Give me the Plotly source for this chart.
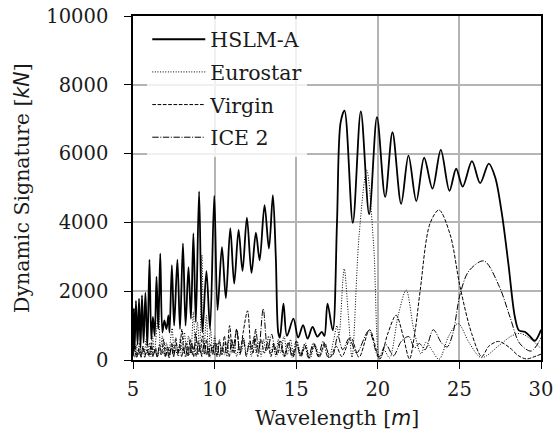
import plotly.graph_objects as go

# ---------------- data ----------------
hslm_x = [5.00, 5.05, 5.10, 5.18, 5.28, 5.37, 5.46, 5.55, 5.65, 5.76, 5.88, 6.01,
          6.12, 6.22, 6.33, 6.44, 6.55, 6.67, 6.80, 6.92, 7.05, 7.17, 7.24, 7.38,
          7.52, 7.72, 7.88, 8.06, 8.22, 8.40, 8.55, 8.70, 8.85, 9.05, 9.25, 9.50,
          9.72, 9.98, 10.18, 10.45, 10.69, 10.96, 11.20, 11.47, 11.71, 11.98, 12.26,
          12.53, 12.76, 13.06, 13.33, 13.57, 13.75, 13.90, 14.00, 14.22, 14.43,
          14.83, 15.12, 15.42, 15.70, 16.00, 16.30, 16.57, 16.73, 16.92, 17.24,
          17.50, 17.72, 17.96, 18.47, 18.96, 19.47, 19.95, 20.45, 20.90, 21.43,
          21.88, 22.36, 22.84, 23.35, 23.86, 24.39, 24.80, 25.20, 25.77, 26.27,
          26.80, 27.20, 27.60, 28.00, 28.40, 28.65, 29.00, 29.30, 29.62, 30.00]
hslm_y = [250, 1500, 300, 1720, 450, 1780, 350, 1880, 500, 1960, 400, 2920,
          600, 1250, 700, 2420, 900, 3100, 800, 1150, 900, 1300, 800, 2760,
          1000, 2920, 900, 3390, 1000, 2700, 1200, 3680, 1100, 4900, 800, 2580,
          900, 4780, 1450, 3280, 1800, 3830, 2220, 3780, 2590, 4140, 2530,
          3700, 2900, 4500, 3240, 4790, 3000, 800, 650, 1640, 700,
          1200, 650, 1010, 620, 960, 680, 820, 700, 1640, 865,
          4000, 6900, 7250, 3990, 7230, 4240, 7060, 4740, 6620, 4540,
          5940, 4620, 5880, 4980, 6110, 4920, 5560, 5040, 5780, 5140,
          5710, 5300, 4260, 2800, 1250, 860, 820, 700, 560, 880]

euro_x = [5.00, 5.10, 5.20, 5.30, 5.40, 5.50, 5.60, 5.70, 5.80, 5.90, 6.00, 6.10,
          6.20, 6.30, 6.45, 6.57, 6.68, 6.80, 6.92, 7.05, 7.18, 7.30, 7.40, 7.52,
          7.65, 7.78, 7.90, 8.02, 8.15, 8.28, 8.40, 8.55, 8.70, 8.82, 8.95, 9.08,
          9.22, 9.36, 9.50, 9.62, 9.75, 9.88, 10.00, 10.15, 10.30, 10.45, 10.60,
          10.75, 10.90, 11.05, 11.20, 11.35, 11.50, 11.65, 11.80, 11.95, 12.10,
          12.25, 12.40, 12.55, 12.70, 12.85, 13.00, 13.15, 13.30, 13.45, 13.60,
          13.75, 13.90, 14.05, 14.25, 14.45, 14.65, 14.85, 15.05, 15.30, 15.55,
          15.85, 16.15, 16.45, 16.75, 17.05, 17.30, 17.50, 17.62, 17.94, 18.18,
          18.42, 18.85, 19.32, 19.75, 20.12, 20.40, 20.72, 21.25, 21.74, 22.20,
          22.65, 22.95, 23.30, 23.75, 24.35, 24.92, 25.60, 26.35, 27.50, 28.20,
          28.75, 29.40, 30.00]
euro_y = [300, 80, 450, 150, 500, 100, 400, 200, 600, 150, 500, 100,
          700, 200, 900, 1500, 300, 700, 150, 500, 100, 600, 920, 200,
          500, 100, 650, 250, 800, 200, 700, 300, 1400, 400, 1100, 300,
          3050, 400, 1300, 200, 900, 150, 700, 100, 600, 200, 500,
          100, 680, 200, 500, 100, 450, 250, 600, 150, 500,
          100, 650, 200, 550, 100, 600, 250, 700, 150, 500,
          100, 600, 200, 700, 150, 600, 100, 550, 150, 500,
          50, 450, 100, 420, 150, 600, 1000, 700, 2650, 1400,
          80, 3600, 5520, 3300, 40, 280, 60, 1300, 2030, 900,
          180, 520, 300, 20, 700, 1060, 500, 70, 450, 700,
          770, 600, 330]

virgin_x = [5.00, 5.12, 5.25, 5.38, 5.50, 5.62, 5.75, 5.88, 6.00, 6.12, 6.25, 6.38,
            6.50, 6.62, 6.75, 6.88, 7.00, 7.12, 7.25, 7.38, 7.50, 7.62, 7.75, 7.88,
            8.00, 8.12, 8.25, 8.38, 8.50, 8.62, 8.75, 8.88, 9.00, 9.12, 9.25, 9.38,
            9.50, 9.62, 9.75, 9.88, 10.00, 10.15, 10.30, 10.45, 10.60, 10.75, 10.92,
            11.10, 11.36, 11.55, 11.75, 12.02, 12.25, 12.45, 12.65, 12.85, 13.05,
            13.25, 13.45, 13.65, 13.85, 14.05, 14.30, 14.55, 14.80, 15.05, 15.30,
            15.55, 15.80, 16.10, 16.40, 16.75, 17.05, 17.45, 17.80, 18.35, 18.85,
            19.50, 20.12, 20.60, 21.12, 21.55, 21.94, 22.30, 22.60, 23.20, 23.75,
            24.43, 25.04, 25.75, 26.37, 26.80, 27.40, 28.10, 28.60, 29.10, 29.50,
            30.00]
virgin_y = [200, 450, 100, 350, 80, 400, 150, 300, 100, 500, 150, 350,
            80, 450, 200, 600, 100, 400, 150, 500, 100, 650, 200, 400,
            900, 200, 500, 100, 600, 150, 400, 100, 550, 200, 700, 150,
            600, 100, 450, 200, 500, 100, 550, 150, 700, 200, 1000,
            250, 900, 200, 800, 1430, 300, 700, 100, 600, 200,
            500, 100, 450, 150, 550, 100, 500, 80, 450, 100,
            400, 60, 450, 80, 500, 60, 400, 100, 650, 80,
            880, 30, 750, 1300, 700, 30, 900, 2030, 3970, 4360,
            3650, 2130, 770, 100, 400, 540, 350, 130, 30, 80,
            170]

ice_x = [5.00, 5.10, 5.22, 5.35, 5.48, 5.60, 5.72, 5.85, 5.98, 6.10, 6.22, 6.35,
         6.48, 6.60, 6.72, 6.85, 6.98, 7.10, 7.22, 7.35, 7.48, 7.60, 7.72, 7.85,
         7.98, 8.10, 8.22, 8.35, 8.48, 8.60, 8.72, 8.85, 8.98, 9.10, 9.22, 9.35,
         9.48, 9.60, 9.72, 9.85, 10.00, 10.15, 10.30, 10.45, 10.60, 10.75, 10.90,
         11.05, 11.20, 11.35, 11.55, 11.75, 11.95, 12.15, 12.35, 12.52, 12.70,
         12.98, 13.25, 13.50, 13.75, 14.00, 14.25, 14.50, 14.75, 15.00, 15.25,
         15.50, 15.75, 16.05, 16.35, 16.65, 16.95, 17.25, 17.55, 17.85, 18.25,
         18.70, 19.45, 20.05, 20.50, 20.95, 21.45, 21.90, 22.25, 22.55, 22.90,
         23.40, 23.90, 24.25, 24.60, 25.05, 25.60, 26.50, 27.45, 28.10, 28.70,
         29.40, 30.00]
ice_y = [100, 300, 80, 250, 120, 350, 80, 300, 150, 400, 100, 300,
         80, 350, 150, 250, 100, 300, 50, 400, 100, 300, 150, 450,
         100, 350, 80, 400, 150, 500, 100, 800, 150, 400, 100, 500,
         150, 350, 80, 400, 150, 500, 100, 400, 150, 500, 100,
         600, 200, 900, 150, 650, 100, 550, 200, 900, 250,
         1490, 300, 750, 150, 550, 100, 500, 80, 550, 100,
         450, 60, 500, 100, 550, 80, 150, 700, 300, 630,
         200, 850, 80, 450, 120, 550, 680, 350, 480, 300,
         880, 500, 380, 770, 1930, 2600, 2880, 2130, 1250, 480,
         260, 650]

series_names = ["HSLM-A", "Eurostar", "Virgin", "ICE 2"]

x_ticks = [5, 10, 15, 20, 25, 30]
y_ticks = [0, 2000, 4000, 6000, 8000, 10000]
y_tick_labels = ["0", "2000", "4000", "6000", "8000", "10000"]

# ---------------- figure ----------------
FONT = "DejaVu Serif"
fig = go.Figure()

styles = [
    dict(width=1.8, dash="solid"),
    dict(width=1.0, dash="1px,1.6px"),
    dict(width=1.0, dash="3.7px,1.6px"),
    dict(width=1.0, dash="6.4px,1.6px,1px,1.6px"),
]
data = [(hslm_x, hslm_y), (euro_x, euro_y), (virgin_x, virgin_y), (ice_x, ice_y)]

for name, (xs, ys), st in zip(series_names, data, styles):
    fig.add_trace(go.Scatter(
        x=xs, y=ys, name=name, mode="lines", legendgroup=name,
        line=dict(color="black", width=st["width"], dash=st["dash"],
                  shape="spline", smoothing=0.9),
    ))

axis_common = dict(
    showline=True, linecolor="black", linewidth=1.5, mirror=True,
    ticks="outside", ticklen=7, tickwidth=1.3, tickcolor="black",
    showgrid=True, gridcolor="#b4b4b4", gridwidth=1.5, zeroline=False,
    automargin=False, ticklabeloverflow="allow",
    tickfont=dict(family=FONT, size=19.5, color="#1a1a1a"),
)

fig.update_xaxes(range=[5, 30], tickvals=x_ticks, ticktext=[str(v) for v in x_ticks],
                 ticklabelstandoff=4, **axis_common)
fig.update_yaxes(range=[0, 10000], tickvals=y_ticks, ticktext=y_tick_labels,
                 ticklabelstandoff=12, **axis_common)

fig.add_annotation(
    text="Wavelength [<span style='font-family:DejaVu Sans;font-style:italic'>m</span>]",
    xref="paper", yref="paper", x=0.5, y=-0.168, showarrow=False,
    xanchor="center", yanchor="middle",
    font=dict(family=FONT, size=20.5, color="#1a1a1a"))
fig.add_annotation(
    text="Dynamic Signature [<span style='font-family:DejaVu Sans;font-style:italic'>kN</span>]",
    xref="paper", yref="paper", x=-0.272, y=0.5, showarrow=False, textangle=-90,
    xanchor="center", yanchor="middle",
    font=dict(family=FONT, size=20.5, color="#1a1a1a"))

fig.update_layout(
    width=553, height=430,
    margin=dict(l=133, r=12, t=16, b=70, autoexpand=False),
    plot_bgcolor="white", paper_bgcolor="white",
    showlegend=True,
    legend=dict(x=0.035, y=0.990, xanchor="left", yanchor="top",
                bgcolor="rgba(255,255,255,0.8)", borderwidth=0,
                font=dict(family=FONT, size=20.5, color="#1a1a1a"),
                tracegroupgap=3, itemwidth=53),
)

fig.write_html("out.html",
               config={"displayModeBar": False},
               post_script="document.body.style.margin='0';document.body.style.overflow='hidden';")
